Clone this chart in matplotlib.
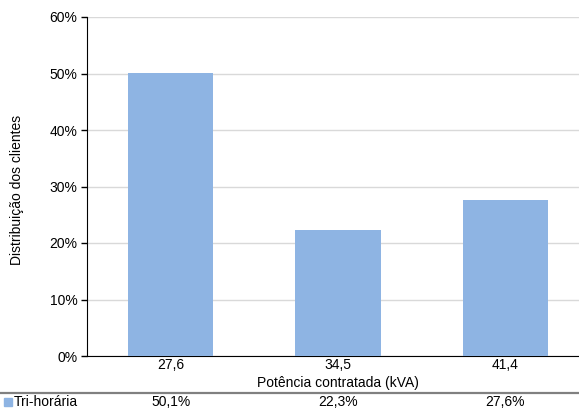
import matplotlib.pyplot as plt
import matplotlib.ticker as ticker
import numpy as np

plt.rcParams['font.family'] = ['Liberation Sans', 'DejaVu Sans']

# data
categorias = ['27,6', '34,5', '41,4']
serie_nome = 'Tri-horária'
valores = [50.1, 22.3, 27.6]
tabela = ['50,1%', '22,3%', '27,6%']

cor = '#8EB4E3'
W, H = 579, 408
fs = 10

fig = plt.figure(figsize=(W / 100, H / 100), dpi=100)
# axes box in pixel coords (plot area runs past the right edge)
x0, x1, y0, y1 = 87, 589, 356, 17
ax = fig.add_axes([x0 / W, 1 - y0 / H, (x1 - x0) / W, (y0 - y1) / H])

x = np.arange(len(categorias))
ax.bar(x, valores, width=0.51, color=cor, zorder=3)

ax.set_xlim(-0.5, len(categorias) - 0.5)
ax.set_ylim(0, 60)
ax.yaxis.set_major_locator(ticker.MultipleLocator(10))
ax.yaxis.set_major_formatter(ticker.FuncFormatter(lambda v, p: f'{v:.0f}%'))
ax.grid(axis='y', color='#D9D9D9', linewidth=1, zorder=0)

ax.set_xticks(x)
ax.set_xticklabels(categorias)
ax.tick_params(axis='x', length=0, pad=1.5, labelsize=fs)
ax.tick_params(axis='y', length=4, width=1, pad=3, labelsize=fs, color='black')

for s in ['top', 'right']:
    ax.spines[s].set_visible(False)
ax.spines['left'].set_color('black')
ax.spines['bottom'].set_color('black')

fig.text(338 / W, 1 - 383 / H, 'Potência contratada (kVA)', ha='center', va='center', fontsize=fs)
fig.text(17 / W, 1 - 190 / H, 'Distribuição dos clientes', rotation=90,
         ha='center', va='center', fontsize=fs)

# data table below the chart
fig.add_artist(plt.Line2D([0, 1], [1 - 393 / H, 1 - 393 / H],
                          transform=fig.transFigure, color='#808080', linewidth=1.6))
ty = 1 - 402 / H
fig.patches.append(plt.Rectangle((4 / W, ty - 4 / H), 8 / W, 8 / H,
                                 transform=fig.transFigure, color=cor))
fig.text(14 / W, ty, serie_nome, ha='left', va='center', fontsize=fs)
for i, t in enumerate(tabela):
    px = ax.transData.transform((x[i], 0))[0]
    fig.text(px / W, ty, t, ha='center', va='center', fontsize=fs)

fig.savefig('out.png', dpi=100)
